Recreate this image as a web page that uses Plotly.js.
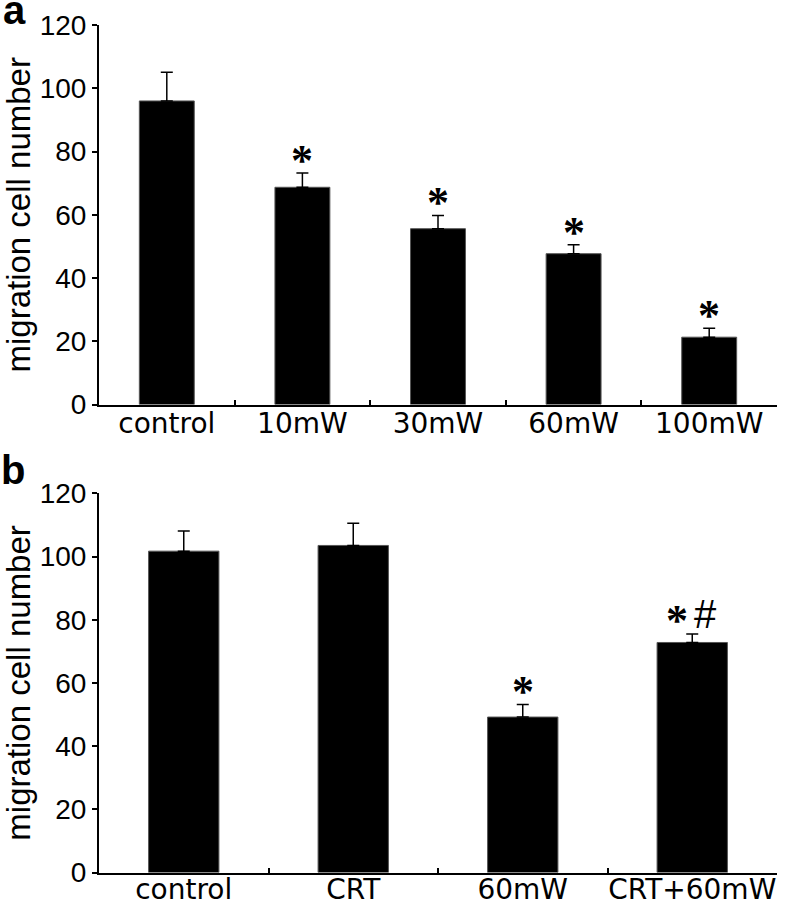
<!DOCTYPE html>
<html>
<head>
<meta charset="utf-8">
<script src="https://cdn.plot.ly/plotly-3.0.1.min.js"></script>
<style>html,body{margin:0;padding:0;background:#fff;}#chart{width:788px;height:904px;}</style>
</head>
<body>
<div id="chart"></div>
<script>
// Panel a
const catsA = ["control", "10mW", "30mW", "60mW", "100mW"];
const valsA = [96.0, 68.7, 55.6, 47.7, 21.3];
const errA  = [9.1, 4.5, 4.2, 2.8, 2.8];
const sigA  = ["", "*", "*", "*", "*"];

// Panel b
const catsB = ["control", "CRT", "60mW", "CRT+60mW"];
const valsB = [101.7, 103.5, 49.2, 72.8];
const errB  = [6.4, 7.0, 4.0, 2.7];
const starB = ["", "", "*", "*"];
const hashB = ["", "", "", "#"];

const yTicks = [0, 20, 40, 60, 80, 100, 120];
const yTitle = "migration cell number";

const barStyle = {color: "#000", line: {color: "#555", width: 1}};
const errStyle = (arr) => ({type: "data", array: arr, arrayminus: arr.map(() => 0), symmetric: false,
  color: "#000", thickness: 1.5, width: 6});

const traces = [
  {type: "bar", x: catsA, y: valsA, xaxis: "x", yaxis: "y", width: 0.405,
   marker: barStyle, error_y: errStyle(errA), hoverinfo: "none"},
  {type: "bar", x: catsB, y: valsB, xaxis: "x2", yaxis: "y2", width: 0.415,
   marker: barStyle, error_y: errStyle(errB), hoverinfo: "none"}
];

const sansF = "Liberation Sans, Arial, sans-serif";
const xTickFont = {family: "DejaVu Sans, sans-serif", size: 28, color: "#000"};
const yTickFont = {family: sansF, size: 28, color: "#000"};

function xAxis(anchor, standoff) {
  return {anchor: anchor, type: "category", domain: [0, 1], showline: true, linecolor: "#000", linewidth: 2,
    ticks: "inside", tickson: "boundaries", ticklen: 5, tickwidth: 2, tickcolor: "#000",
    ticklabelstandoff: standoff, tickangle: 0,
    tickfont: xTickFont, showgrid: false, zeroline: false, fixedrange: true};
}
function yAxis(anchor, dom) {
  return {anchor: anchor, domain: dom, range: [0, 120], tickvals: yTicks, ticktext: yTicks.map(String),
    showline: true, linecolor: "#000", linewidth: 2, ticks: "outside", ticklen: 5, tickwidth: 2,
    tickcolor: "#000", tickfont: yTickFont, showgrid: false, zeroline: false,
    title: {text: yTitle, font: {family: sansF, size: 33, color: "#000"}, standoff: 6}, fixedrange: true};
}

const annotations = [];
const starFont = {family: "Liberation Serif, Times New Roman, serif", size: 44, color: "#000", weight: "bold"};
catsA.forEach((c, i) => {
  if (sigA[i]) annotations.push({x: c, y: valsA[i] + errA[i], xref: "x", yref: "y", text: sigA[i],
    showarrow: false, font: starFont, yanchor: "bottom", yshift: -14});
});
catsB.forEach((c, i) => {
  if (starB[i] && hashB[i]) {
    annotations.push({x: c, y: valsB[i] + errB[i], xref: "x2", yref: "y2", text: starB[i],
      showarrow: false, font: starFont, yanchor: "bottom", yshift: -13, xshift: -15});
    annotations.push({x: c, y: valsB[i] + errB[i], xref: "x2", yref: "y2", text: hashB[i],
      showarrow: false, font: {family: sansF, size: 40, color: "#000"}, yanchor: "bottom", yshift: -4, xshift: 13});
  } else if (starB[i]) {
    annotations.push({x: c, y: valsB[i] + errB[i], xref: "x2", yref: "y2", text: starB[i],
      showarrow: false, font: starFont, yanchor: "bottom", yshift: -14});
  }
});
const panelFont = {family: sansF, size: 40, color: "#000", weight: "bold"};
annotations.push({x: (14 - 99) / 678, y: (904 - 10) / 904, xref: "paper", yref: "paper", text: "a",
  showarrow: false, font: panelFont, xanchor: "center", yanchor: "middle"});
annotations.push({x: (13 - 99) / 678, y: (904 - 470) / 904, xref: "paper", yref: "paper", text: "b",
  showarrow: false, font: panelFont, xanchor: "center", yanchor: "middle"});

const layout = {
  width: 788, height: 904,
  margin: {l: 99, r: 11, t: 0, b: 0, autoexpand: false},
  paper_bgcolor: "#fff", plot_bgcolor: "#fff",
  showlegend: false,
  xaxis: xAxis("y", -7),
  yaxis: yAxis("x", [0.5525, 0.9723]),
  xaxis2: xAxis("y2", -9),
  yaxis2: yAxis("x2", [0.0348, 0.4543]),
  annotations: annotations
};

Plotly.newPlot("chart", traces, layout, {staticPlot: true, displayModeBar: false});
</script>
</body>
</html>
